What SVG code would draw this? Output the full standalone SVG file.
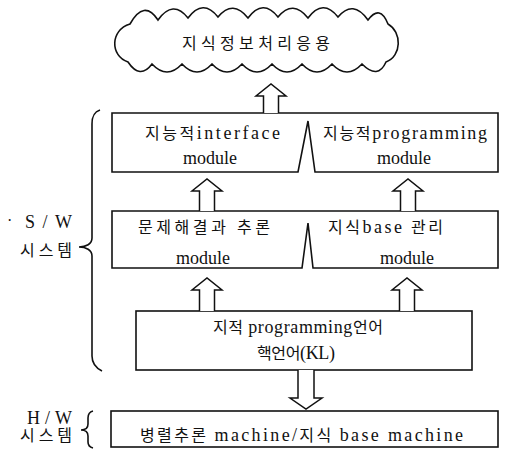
<svg xmlns="http://www.w3.org/2000/svg" width="505" height="452" viewBox="0 0 505 452">
<style>
text{font-family:"Liberation Serif","Noto Sans CJK KR",serif;font-size:16px;fill:#111}
.l{font-size:18px}
.ln{fill:none;stroke:#111;stroke-width:1.6;stroke-linejoin:miter}
.box{fill:#fff;stroke:#111;stroke-width:1.6}
.arr{fill:#fff;stroke:#111;stroke-width:1.5;stroke-linejoin:miter}
</style>
<rect width="505" height="452" fill="#fff"/>
<g id="cloud">
<path class="ln" d="M130,24 Q144,-1 158,20 Q173,-1 188,18 Q203,-2 218,17 Q233,-1 248,18 Q263,-2 278,17 Q293,-1 308,18 Q323,-2 338,17 Q353,-1 368,20 Q380,4 388,24 C402,32 402,56 386,62 Q378,80 362,64 Q347,80 332,64 Q317,80 302,64 Q287,80 272,64 Q257,80 242,64 Q227,80 212,64 Q197,80 182,64 Q167,80 152,64 Q140,80 128,62 C110,56 110,30 130,24 Z"/>
<text x="182" y="49" textLength="148" lengthAdjust="spacing">지식정보처리응용</text>
</g>
<g id="intelligent-modules">
<path class="box" d="M112,113 H498 V172 H315 L308,121 L298,172 H112 Z"/>
<text x="145" y="139" textLength="135" lengthAdjust="spacing">지능적<tspan class="l">interface</tspan></text>
<text class="l" x="183" y="164" textLength="54" lengthAdjust="spacing">module</text>
<text x="323" y="139" textLength="164" lengthAdjust="spacing">지능적<tspan class="l">programming</tspan></text>
<text class="l" x="377" y="164" textLength="54" lengthAdjust="spacing">module</text>
</g>
<g id="problem-kb-modules">
<path class="box" d="M112,211 H498 V268 H313 L308,223 L302,268 H112 Z"/>
<text x="138" y="233" textLength="132" lengthAdjust="spacing">문제해결과 추론</text>
<text class="l" x="176" y="264" textLength="54" lengthAdjust="spacing">module</text>
<text x="328" y="233" textLength="115" lengthAdjust="spacing">지식<tspan class="l">base</tspan> 관리</text>
<text class="l" x="380" y="264" textLength="54" lengthAdjust="spacing">module</text>
</g>
<g id="kl-language">
<rect class="box" x="136" y="311" width="336" height="59"/>
<text x="213" y="333" textLength="170" lengthAdjust="spacing">지적 <tspan class="l">programming</tspan>언어</text>
<text x="257" y="359" textLength="78" lengthAdjust="spacing">핵언어<tspan class="l">(KL)</tspan></text>
</g>
<g id="hw-machine">
<rect class="box" x="111" y="411" width="387" height="36"/>
<text x="140" y="441" textLength="323" lengthAdjust="spacing">병렬추론 <tspan class="l">machine/</tspan>지식 <tspan class="l">base machine</tspan></text>
</g>
<g id="sw-label">
<path class="ln" d="M100,110 C94,112 92,116 92,124 V238 C92,244 86,247 79,247 C86,247 92,250 92,256 V356 C92,364 96,368 102,371"/>
<text x="7" y="226" font-size="10">·</text>
<text class="l" x="25" y="228" textLength="47" lengthAdjust="spacing">S/W</text>
<text x="20" y="256" textLength="52" lengthAdjust="spacing">시스템</text>
</g>
<g id="hw-label">
<path class="ln" d="M93,411 C89,412 88,415 88,418 V424 C88,428 85,430 81,430 C85,430 88,432 88,436 V442 C88,445 89,447 93,448"/>
<text class="l" x="27" y="424" textLength="45" lengthAdjust="spacing">H/W</text>
<text x="20" y="441" textLength="52" lengthAdjust="spacing">시스템</text>
</g>
<g id="connectors">
<path class="arr" d="M263.5,113 V96 H256 L271,84 L286,96 H278.5 V113"/>
<path class="arr" d="M199.5,211 V191 H192 L207,179 L222,191 H214.5 V211"/>
<path class="arr" d="M400.5,211 V191 H393 L408,179 L423,191 H415.5 V211"/>
<path class="arr" d="M199.5,311 V290 H192 L207,278 L222,290 H214.5 V311"/>
<path class="arr" d="M399.5,311 V290 H392 L407,278 L422,290 H414.5 V311"/>
<path class="arr" d="M298,370 V398 H290 L306,409 L322,398 H314 V370"/>
</g>
</svg>
